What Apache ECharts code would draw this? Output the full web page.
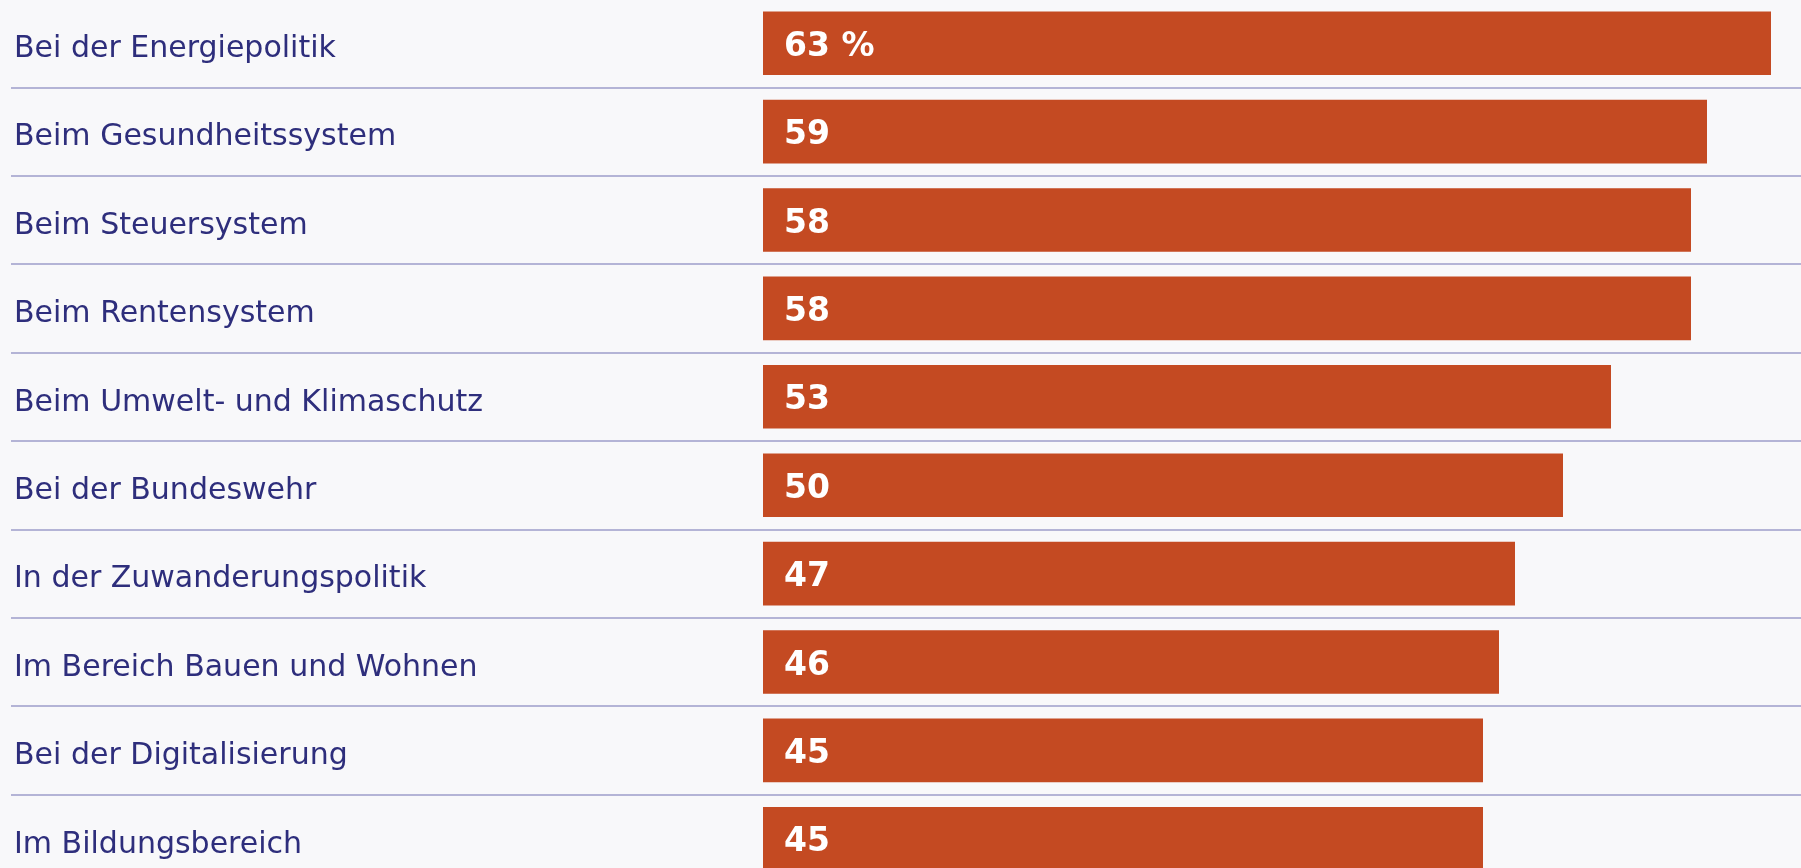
<!DOCTYPE html>
<html>
<head>
<meta charset="utf-8">
<script src="https://cdn.jsdelivr.net/npm/echarts@6/dist/echarts.min.js"></script>
<style>
html,body{margin:0;padding:0;background:#f8f8fa;}
#c{width:1801px;height:868px;}
</style>
</head>
<body>
<div id="c"></div>
<script>
const categories = [
  "Bei der Energiepolitik",
  "Beim Gesundheitssystem",
  "Beim Steuersystem",
  "Beim Rentensystem",
  "Beim Umwelt- und Klimaschutz",
  "Bei der Bundeswehr",
  "In der Zuwanderungspolitik",
  "Im Bereich Bauen und Wohnen",
  "Bei der Digitalisierung",
  "Im Bildungsbereich"
];
const values = [63, 59, 58, 58, 53, 50, 47, 46, 45, 45];

const chart = echarts.init(document.getElementById('c'), null, {renderer: 'canvas'});
const gridTop = -1, gridHeight = 884;
chart.setOption({
  backgroundColor: '#f8f8fa',
  animation: false,
  grid: [
    {left: 763, width: 1024, top: gridTop, height: gridHeight, containLabel: false, outerBoundsMode: 'none'},
    {left: 11, right: 0, top: gridTop, height: gridHeight, containLabel: false, outerBoundsMode: 'none'}
  ],
  xAxis: [
    {gridIndex: 0, type: 'value', min: 0, max: 64, show: false},
    {gridIndex: 1, type: 'value', min: 0, max: 1, show: false}
  ],
  yAxis: [
    {
      gridIndex: 0, type: 'category', data: categories, inverse: true,
      axisLine: {show: false}, axisTick: {show: false}, splitLine: {show: false},
      axisLabel: {
        align: 'left', margin: 749, color: '#2e2e7c',
        fontFamily: '"DejaVu Sans", sans-serif', fontSize: 30,
        formatter: v => '{t|' + v + '}',
        rich: {t: {fontFamily: '"DejaVu Sans", sans-serif', fontSize: 30, color: '#2e2e7c', padding: [12, 0, 0, 0]}}
      }
    },
    {
      gridIndex: 1, type: 'category', data: categories, inverse: true,
      axisLine: {show: false}, axisTick: {show: false}, axisLabel: {show: false},
      splitLine: {show: true, lineStyle: {color: '#b4b4d6', width: 2}}
    }
  ],
  series: [{
    type: 'bar', xAxisIndex: 0, yAxisIndex: 0,
    data: values,
    barCategoryGap: '28%',
    itemStyle: {color: '#c44a22'},
    label: {
      show: true, position: 'insideLeft', distance: 21,
      color: '#ffffff', fontWeight: 'bold', fontSize: 33,
      fontFamily: '"DejaVu Sans", sans-serif',
      offset: [0, 4],
      formatter: p => p.dataIndex === 0 ? p.value + ' %' : String(p.value)
    }
  }]
});
</script>
</body>
</html>
